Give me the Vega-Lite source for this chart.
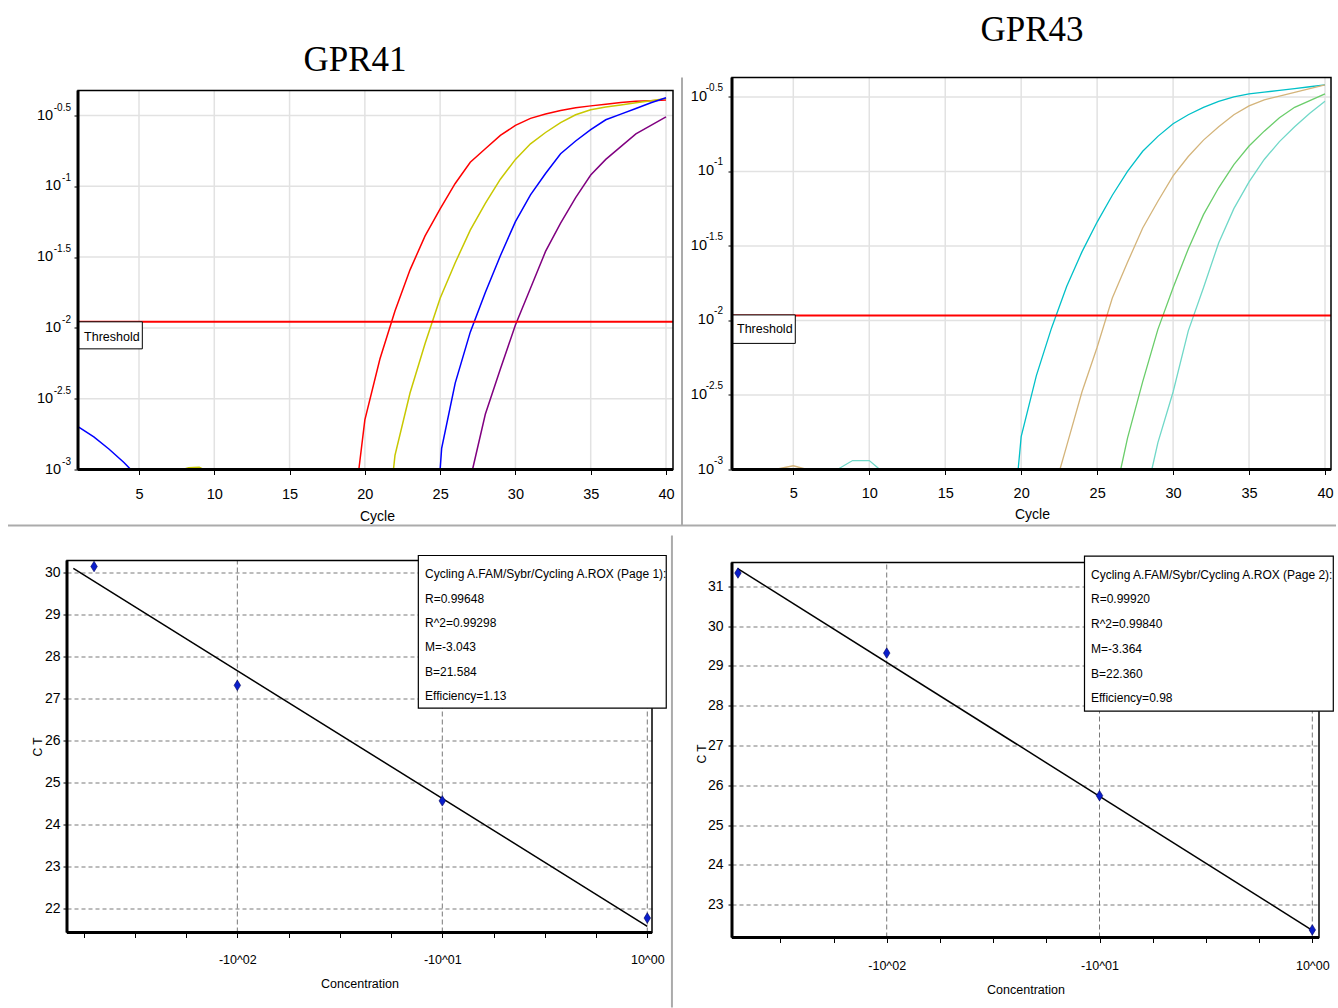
{
  "$schema": "https://vega.github.io/schema/vega-lite/v6.json",
  "background": "white",
  "padding": {"left": 7, "top": 12.5, "right": 0, "bottom": 0},
  "columns": 2,
  "align": "each",
  "bounds": "flush",
  "spacing": {"row": 91, "column": 59},
  "resolve": {"scale": {"color": "independent"}},
  "concat": [
    {
      "width": 606,
      "height": 392,
      "layer": [
        {
          "data": {"values": [{"c": 5}, {"c": 10}, {"c": 15}, {"c": 20}, {"c": 25}, {"c": 30}, {"c": 35}, {"c": 40}]},
          "mark": {"type": "rule", "color": "#E2E2E2", "strokeWidth": 1.5},
          "encoding": {
            "x": {"field": "c", "type": "quantitative", "scale": {"domain": [0.218, 40.465], "nice": false, "zero": false},
                  "axis": {"values": [5, 10, 15, 20, 25, 30, 35, 40], "domain": false, "grid": false, "ticks": true, "tickSize": 5, "labelFontSize": 14.5, "labelPadding": 23.5, "labelBaseline": "alphabetic", "labelFlush": false, "labelOverlap": false, "title": "Cycle", "titleFontSize": 14, "titleBaseline": "alphabetic", "titleY": 51, "titleX": 310, "titleAlign": "center"}},
            "y": {"datum": -3, "type": "quantitative", "scale": {"domain": [-3, -0.2316], "nice": false, "zero": false},
                  "axis": {"values": [-3, -2.5, -2, -1.5, -1, -0.5], "labels": false, "domain": false, "grid": false, "ticks": true, "tickSize": 4, "offset": -11, "title": null}},
            "y2": {"datum": -0.3234}
          }
        },
        {
          "data": {"values": [{"g": -2.5}, {"g": -2}, {"g": -1.5}, {"g": -1}, {"g": -0.5}]},
          "mark": {"type": "rule", "color": "#E2E2E2", "strokeWidth": 1.5},
          "encoding": {
            "y": {"field": "g", "type": "quantitative"},
            "x": {"datum": 0.95, "type": "quantitative"},
            "x2": {"datum": 40.465}
          }
        },
        {
          "data": {"values": [
            {"dil": "1", "cycle": 19.6, "lg": -3}, {"dil": "1", "cycle": 20, "lg": -2.65}, {"dil": "1", "cycle": 21, "lg": -2.22}, {"dil": "1", "cycle": 22, "lg": -1.88}, {"dil": "1", "cycle": 23, "lg": -1.59}, {"dil": "1", "cycle": 24, "lg": -1.35}, {"dil": "1", "cycle": 25, "lg": -1.16}, {"dil": "1", "cycle": 26, "lg": -0.98}, {"dil": "1", "cycle": 27, "lg": -0.83}, {"dil": "1", "cycle": 28, "lg": -0.735}, {"dil": "1", "cycle": 29, "lg": -0.64}, {"dil": "1", "cycle": 30, "lg": -0.57}, {"dil": "1", "cycle": 31, "lg": -0.52}, {"dil": "1", "cycle": 32, "lg": -0.49}, {"dil": "1", "cycle": 33, "lg": -0.465}, {"dil": "1", "cycle": 34, "lg": -0.446}, {"dil": "1", "cycle": 35, "lg": -0.432}, {"dil": "1", "cycle": 36, "lg": -0.42}, {"dil": "1", "cycle": 37, "lg": -0.408}, {"dil": "1", "cycle": 38, "lg": -0.4}, {"dil": "1", "cycle": 39, "lg": -0.395}, {"dil": "1", "cycle": 40, "lg": -0.39},
            {"dil": "0.1", "cycle": 7.9, "lg": -3}, {"dil": "0.1", "cycle": 8.3, "lg": -2.988}, {"dil": "0.1", "cycle": 9.0, "lg": -2.985}, {"dil": "0.1", "cycle": 9.3, "lg": -3}, {"dil": "0.1", "cycle": 21.9, "lg": -3}, {"dil": "0.1", "cycle": 22, "lg": -2.9}, {"dil": "0.1", "cycle": 23, "lg": -2.46}, {"dil": "0.1", "cycle": 24, "lg": -2.11}, {"dil": "0.1", "cycle": 25, "lg": -1.79}, {"dil": "0.1", "cycle": 26, "lg": -1.54}, {"dil": "0.1", "cycle": 27, "lg": -1.31}, {"dil": "0.1", "cycle": 28, "lg": -1.12}, {"dil": "0.1", "cycle": 29, "lg": -0.95}, {"dil": "0.1", "cycle": 30, "lg": -0.81}, {"dil": "0.1", "cycle": 31, "lg": -0.7}, {"dil": "0.1", "cycle": 32, "lg": -0.62}, {"dil": "0.1", "cycle": 33, "lg": -0.55}, {"dil": "0.1", "cycle": 34, "lg": -0.495}, {"dil": "0.1", "cycle": 35, "lg": -0.46}, {"dil": "0.1", "cycle": 36, "lg": -0.44}, {"dil": "0.1", "cycle": 37, "lg": -0.425}, {"dil": "0.1", "cycle": 38, "lg": -0.41}, {"dil": "0.1", "cycle": 39, "lg": -0.395}, {"dil": "0.1", "cycle": 40, "lg": -0.38},
            {"dil": "0.01", "cycle": 1, "lg": -2.7}, {"dil": "0.01", "cycle": 2, "lg": -2.77}, {"dil": "0.01", "cycle": 3, "lg": -2.855}, {"dil": "0.01", "cycle": 4, "lg": -2.95}, {"dil": "0.01", "cycle": 4.45, "lg": -3}, {"dil": "0.01", "cycle": 25, "lg": -3}, {"dil": "0.01", "cycle": 25.1, "lg": -2.85}, {"dil": "0.01", "cycle": 26, "lg": -2.39}, {"dil": "0.01", "cycle": 27, "lg": -2.03}, {"dil": "0.01", "cycle": 28, "lg": -1.75}, {"dil": "0.01", "cycle": 29, "lg": -1.49}, {"dil": "0.01", "cycle": 30, "lg": -1.25}, {"dil": "0.01", "cycle": 31, "lg": -1.06}, {"dil": "0.01", "cycle": 32, "lg": -0.91}, {"dil": "0.01", "cycle": 33, "lg": -0.77}, {"dil": "0.01", "cycle": 34, "lg": -0.68}, {"dil": "0.01", "cycle": 35, "lg": -0.6}, {"dil": "0.01", "cycle": 36, "lg": -0.53}, {"dil": "0.01", "cycle": 37, "lg": -0.49}, {"dil": "0.01", "cycle": 38, "lg": -0.45}, {"dil": "0.01", "cycle": 39, "lg": -0.41}, {"dil": "0.01", "cycle": 40, "lg": -0.375},
            {"dil": "0.002", "cycle": 27.15, "lg": -3}, {"dil": "0.002", "cycle": 28, "lg": -2.61}, {"dil": "0.002", "cycle": 29, "lg": -2.29}, {"dil": "0.002", "cycle": 30, "lg": -1.98}, {"dil": "0.002", "cycle": 31, "lg": -1.72}, {"dil": "0.002", "cycle": 32, "lg": -1.46}, {"dil": "0.002", "cycle": 33, "lg": -1.26}, {"dil": "0.002", "cycle": 34, "lg": -1.08}, {"dil": "0.002", "cycle": 35, "lg": -0.92}, {"dil": "0.002", "cycle": 36, "lg": -0.81}, {"dil": "0.002", "cycle": 37, "lg": -0.72}, {"dil": "0.002", "cycle": 38, "lg": -0.63}, {"dil": "0.002", "cycle": 39, "lg": -0.57}, {"dil": "0.002", "cycle": 40, "lg": -0.51}
          ]},
          "mark": {"type": "line", "strokeWidth": 1.5},
          "encoding": {
            "x": {"field": "cycle", "type": "quantitative"},
            "y": {"field": "lg", "type": "quantitative"},
            "color": {"field": "dil", "type": "nominal", "scale": {"domain": ["1", "0.1", "0.01", "0.002"], "range": ["#FF0000", "#C8C800", "#0000FF", "#800080"]}, "legend": null}
          }
        },
        {
          "data": {"values": [{"t": -1.957}]},
          "mark": {"type": "rule", "color": "#FF0000", "strokeWidth": 2},
          "encoding": {
            "y": {"field": "t", "type": "quantitative"},
            "x": {"datum": 0.95, "type": "quantitative"},
            "x2": {"datum": 40.465}
          }
        },
        {
          "data": {"values": [{}]},
          "mark": {"type": "rect", "fill": "white", "stroke": "#000", "strokeWidth": 1},
          "encoding": {
            "x": {"datum": 0.95, "type": "quantitative"},
            "x2": {"datum": 5.22},
            "y": {"datum": -1.957, "type": "quantitative"},
            "y2": {"datum": -2.148}
          }
        },
        {
          "data": {"values": [{}]},
          "mark": {"type": "text", "text": "Threshold", "align": "left", "baseline": "middle", "fontSize": 12.5},
          "encoding": {
            "x": {"datum": 1.35, "type": "quantitative"},
            "y": {"datum": -2.064, "type": "quantitative"}
          }
        },
        {
          "data": {"values": [{}]},
          "mark": {"type": "rect", "filled": false, "stroke": "#000", "strokeWidth": 1.5},
          "encoding": {
            "x": {"datum": 0.95, "type": "quantitative"},
            "x2": {"datum": 40.465},
            "y": {"datum": -3, "type": "quantitative"},
            "y2": {"datum": -0.3234}
          }
        },
        {
          "data": {"values": [{}]},
          "mark": {"type": "rule", "color": "#000", "strokeWidth": 3},
          "encoding": {
            "x": {"datum": 0.95, "type": "quantitative"},
            "y": {"datum": -3, "type": "quantitative"},
            "y2": {"datum": -0.3234}
          }
        },
        {
          "data": {"values": [{}]},
          "mark": {"type": "rule", "color": "#000", "strokeWidth": 3},
          "encoding": {
            "y": {"datum": -3, "type": "quantitative"},
            "x": {"datum": 0.95, "type": "quantitative"},
            "x2": {"datum": 40.465}
          }
        },
        {
          "data": {"values": [{"v": -0.5, "e": "-0.5"}, {"v": -1, "e": "-1"}, {"v": -1.5, "e": "-1.5"}, {"v": -2, "e": "-2"}, {"v": -2.5, "e": "-2.5"}, {"v": -3, "e": "-3"}]},
          "layer": [
            {
              "transform": [{"filter": "length(datum.e) > 2"}],
              "mark": {"type": "text", "text": "10", "align": "right", "baseline": "middle", "dx": -25, "fontSize": 14.5}
            },
            {
              "transform": [{"filter": "length(datum.e) <= 2"}],
              "mark": {"type": "text", "text": "10", "align": "right", "baseline": "middle", "dx": -17, "fontSize": 14.5}
            },
            {
              "mark": {"type": "text", "align": "right", "baseline": "middle", "dx": -7, "dy": -8, "fontSize": 10},
              "encoding": {"text": {"field": "e"}}
            }
          ],
          "encoding": {
            "x": {"datum": 0.95, "type": "quantitative"},
            "y": {"field": "v", "type": "quantitative"}
          }
        },
        {
          "data": {"values": [{"name": "GPR41"}]},
          "mark": {"type": "text", "align": "center", "baseline": "alphabetic", "font": "Liberation Serif, Times New Roman, serif", "fontSize": 35},
          "encoding": {
            "text": {"field": "name"},
            "x": {"datum": 19.345, "type": "quantitative"},
            "y": {"datum": -0.1843, "type": "quantitative"}
          }
        },
        {
          "data": {"values": [{}]},
          "mark": {"type": "rule", "color": "#ABABAB", "strokeWidth": 2},
          "encoding": {
            "y": {"datum": -3.3955, "type": "quantitative"},
            "x": {"datum": -3.70, "type": "quantitative"},
            "x2": {"datum": 84.5}
          }
        },
        {
          "data": {"values": [{}]},
          "mark": {"type": "rule", "color": "#ABABAB", "strokeWidth": 2},
          "encoding": {
            "x": {"datum": 41.063, "type": "quantitative"},
            "y": {"datum": -0.2316, "type": "quantitative"},
            "y2": {"datum": -3.3955}
          }
        }
      ]
    },
    {
      "width": 599,
      "height": 392,
      "layer": [
        {
          "data": {"values": [{"c": 5}, {"c": 10}, {"c": 15}, {"c": 20}, {"c": 25}, {"c": 30}, {"c": 35}, {"c": 40}]},
          "mark": {"type": "rule", "color": "#E2E2E2", "strokeWidth": 1.5},
          "encoding": {
            "x": {"field": "c", "type": "quantitative", "scale": {"domain": [0.964, 40.395], "nice": false, "zero": false},
                  "axis": {"values": [5, 10, 15, 20, 25, 30, 35, 40], "domain": false, "grid": false, "ticks": true, "tickSize": 5, "labelFontSize": 14.5, "labelPadding": 23, "labelBaseline": "alphabetic", "labelFlush": false, "labelOverlap": false, "title": "Cycle", "titleFontSize": 14, "titleBaseline": "alphabetic", "titleY": 49, "titleX": 300, "titleAlign": "center"}},
            "y": {"datum": -3, "type": "quantitative", "scale": {"domain": [-3, -0.37], "nice": false, "zero": false},
                  "axis": {"values": [-3, -2.5, -2, -1.5, -1, -0.5], "labels": false, "domain": false, "grid": false, "ticks": true, "tickSize": 4, "title": null}},
            "y2": {"datum": -0.37}
          }
        },
        {
          "data": {"values": [{"g": -2.5}, {"g": -2}, {"g": -1.5}, {"g": -1}, {"g": -0.5}]},
          "mark": {"type": "rule", "color": "#E2E2E2", "strokeWidth": 1.5},
          "encoding": {
            "y": {"field": "g", "type": "quantitative"},
            "x": {"datum": 0.964, "type": "quantitative"},
            "x2": {"datum": 40.395}
          }
        },
        {
          "data": {"values": [
            {"dil": "1", "cycle": 19.8, "lg": -3}, {"dil": "1", "cycle": 20, "lg": -2.78}, {"dil": "1", "cycle": 21, "lg": -2.37}, {"dil": "1", "cycle": 22, "lg": -2.05}, {"dil": "1", "cycle": 23, "lg": -1.77}, {"dil": "1", "cycle": 24, "lg": -1.54}, {"dil": "1", "cycle": 25, "lg": -1.34}, {"dil": "1", "cycle": 26, "lg": -1.16}, {"dil": "1", "cycle": 27, "lg": -1.0}, {"dil": "1", "cycle": 28, "lg": -0.865}, {"dil": "1", "cycle": 29, "lg": -0.765}, {"dil": "1", "cycle": 30, "lg": -0.68}, {"dil": "1", "cycle": 31, "lg": -0.62}, {"dil": "1", "cycle": 32, "lg": -0.57}, {"dil": "1", "cycle": 33, "lg": -0.53}, {"dil": "1", "cycle": 34, "lg": -0.5}, {"dil": "1", "cycle": 35, "lg": -0.48}, {"dil": "1", "cycle": 36, "lg": -0.468}, {"dil": "1", "cycle": 37, "lg": -0.457}, {"dil": "1", "cycle": 38, "lg": -0.445}, {"dil": "1", "cycle": 39, "lg": -0.432}, {"dil": "1", "cycle": 40, "lg": -0.42},
            {"dil": "0.1", "cycle": 3.8, "lg": -3}, {"dil": "0.1", "cycle": 5, "lg": -2.975}, {"dil": "0.1", "cycle": 5.9, "lg": -3}, {"dil": "0.1", "cycle": 22.55, "lg": -3}, {"dil": "0.1", "cycle": 23, "lg": -2.84}, {"dil": "0.1", "cycle": 24, "lg": -2.48}, {"dil": "0.1", "cycle": 25, "lg": -2.18}, {"dil": "0.1", "cycle": 26, "lg": -1.85}, {"dil": "0.1", "cycle": 27, "lg": -1.61}, {"dil": "0.1", "cycle": 28, "lg": -1.38}, {"dil": "0.1", "cycle": 29, "lg": -1.2}, {"dil": "0.1", "cycle": 30, "lg": -1.03}, {"dil": "0.1", "cycle": 31, "lg": -0.9}, {"dil": "0.1", "cycle": 32, "lg": -0.79}, {"dil": "0.1", "cycle": 33, "lg": -0.7}, {"dil": "0.1", "cycle": 34, "lg": -0.62}, {"dil": "0.1", "cycle": 35, "lg": -0.56}, {"dil": "0.1", "cycle": 36, "lg": -0.52}, {"dil": "0.1", "cycle": 37, "lg": -0.495}, {"dil": "0.1", "cycle": 38, "lg": -0.47}, {"dil": "0.1", "cycle": 39, "lg": -0.445}, {"dil": "0.1", "cycle": 40, "lg": -0.42},
            {"dil": "0.01", "cycle": 26.55, "lg": -3}, {"dil": "0.01", "cycle": 27, "lg": -2.79}, {"dil": "0.01", "cycle": 28, "lg": -2.41}, {"dil": "0.01", "cycle": 29, "lg": -2.06}, {"dil": "0.01", "cycle": 30, "lg": -1.78}, {"dil": "0.01", "cycle": 31, "lg": -1.52}, {"dil": "0.01", "cycle": 32, "lg": -1.29}, {"dil": "0.01", "cycle": 33, "lg": -1.11}, {"dil": "0.01", "cycle": 34, "lg": -0.955}, {"dil": "0.01", "cycle": 35, "lg": -0.83}, {"dil": "0.01", "cycle": 36, "lg": -0.73}, {"dil": "0.01", "cycle": 37, "lg": -0.64}, {"dil": "0.01", "cycle": 38, "lg": -0.57}, {"dil": "0.01", "cycle": 39, "lg": -0.525}, {"dil": "0.01", "cycle": 40, "lg": -0.48},
            {"dil": "0.002", "cycle": 7.9, "lg": -3}, {"dil": "0.002", "cycle": 8.9, "lg": -2.94}, {"dil": "0.002", "cycle": 10, "lg": -2.94}, {"dil": "0.002", "cycle": 10.7, "lg": -3}, {"dil": "0.002", "cycle": 28.6, "lg": -3}, {"dil": "0.002", "cycle": 29, "lg": -2.82}, {"dil": "0.002", "cycle": 30, "lg": -2.48}, {"dil": "0.002", "cycle": 31, "lg": -2.07}, {"dil": "0.002", "cycle": 32, "lg": -1.78}, {"dil": "0.002", "cycle": 33, "lg": -1.48}, {"dil": "0.002", "cycle": 34, "lg": -1.25}, {"dil": "0.002", "cycle": 35, "lg": -1.07}, {"dil": "0.002", "cycle": 36, "lg": -0.92}, {"dil": "0.002", "cycle": 37, "lg": -0.8}, {"dil": "0.002", "cycle": 38, "lg": -0.7}, {"dil": "0.002", "cycle": 39, "lg": -0.61}, {"dil": "0.002", "cycle": 40, "lg": -0.53}
          ]},
          "mark": {"type": "line", "strokeWidth": 1.3},
          "encoding": {
            "x": {"field": "cycle", "type": "quantitative"},
            "y": {"field": "lg", "type": "quantitative"},
            "color": {"field": "dil", "type": "nominal", "scale": {"domain": ["1", "0.1", "0.01", "0.002"], "range": ["#00C0C8", "#D4B47A", "#6ACD6A", "#70D8C8"]}, "legend": null}
          }
        },
        {
          "data": {"values": [{"t": -1.966}]},
          "mark": {"type": "rule", "color": "#FF0000", "strokeWidth": 2},
          "encoding": {
            "y": {"field": "t", "type": "quantitative"},
            "x": {"datum": 0.964, "type": "quantitative"},
            "x2": {"datum": 40.395}
          }
        },
        {
          "data": {"values": [{}]},
          "mark": {"type": "rect", "fill": "white", "stroke": "#000", "strokeWidth": 1},
          "encoding": {
            "x": {"datum": 0.964, "type": "quantitative"},
            "x2": {"datum": 5.13},
            "y": {"datum": -1.963, "type": "quantitative"},
            "y2": {"datum": -2.154}
          }
        },
        {
          "data": {"values": [{}]},
          "mark": {"type": "text", "text": "Threshold", "align": "left", "baseline": "middle", "fontSize": 12.5},
          "encoding": {
            "x": {"datum": 1.293, "type": "quantitative"},
            "y": {"datum": -2.06, "type": "quantitative"}
          }
        },
        {
          "data": {"values": [{}]},
          "mark": {"type": "rect", "filled": false, "stroke": "#000", "strokeWidth": 1.5},
          "encoding": {
            "x": {"datum": 0.964, "type": "quantitative"},
            "x2": {"datum": 40.395},
            "y": {"datum": -3, "type": "quantitative"},
            "y2": {"datum": -0.37}
          }
        },
        {
          "data": {"values": [{}]},
          "mark": {"type": "rule", "color": "#000", "strokeWidth": 3},
          "encoding": {
            "x": {"datum": 0.964, "type": "quantitative"},
            "y": {"datum": -3, "type": "quantitative"},
            "y2": {"datum": -0.37}
          }
        },
        {
          "data": {"values": [{}]},
          "mark": {"type": "rule", "color": "#000", "strokeWidth": 3},
          "encoding": {
            "y": {"datum": -3, "type": "quantitative"},
            "x": {"datum": 0.964, "type": "quantitative"},
            "x2": {"datum": 40.395}
          }
        },
        {
          "data": {"values": [{"v": -0.5, "e": "-0.5"}, {"v": -1, "e": "-1"}, {"v": -1.5, "e": "-1.5"}, {"v": -2, "e": "-2"}, {"v": -2.5, "e": "-2.5"}, {"v": -3, "e": "-3"}]},
          "layer": [
            {
              "transform": [{"filter": "length(datum.e) > 2"}],
              "mark": {"type": "text", "text": "10", "align": "right", "baseline": "middle", "dx": -25, "fontSize": 14.5}
            },
            {
              "transform": [{"filter": "length(datum.e) <= 2"}],
              "mark": {"type": "text", "text": "10", "align": "right", "baseline": "middle", "dx": -18, "fontSize": 14.5}
            },
            {
              "mark": {"type": "text", "align": "right", "baseline": "middle", "dx": -9, "dy": -9, "fontSize": 10},
              "encoding": {"text": {"field": "e"}}
            }
          ],
          "encoding": {
            "x": {"datum": 0.964, "type": "quantitative"},
            "y": {"field": "v", "type": "quantitative"}
          }
        },
        {
          "data": {"values": [{"name": "GPR43"}]},
          "mark": {"type": "text", "align": "center", "baseline": "alphabetic", "font": "Liberation Serif, Times New Roman, serif", "fontSize": 35},
          "encoding": {
            "text": {"field": "name"},
            "x": {"datum": 20.714, "type": "quantitative"},
            "y": {"datum": -0.1238, "type": "quantitative"}
          }
        }
      ]
    },
    {
      "width": 585,
      "height": 372,
      "layer": [
        {
          "data": {"values": [{"m": -2}, {"m": -1}, {"m": 0}]},
          "mark": {"type": "rule", "color": "#777777", "strokeWidth": 1, "strokeDash": [5, 3]},
          "encoding": {
            "x": {"field": "m", "type": "quantitative", "scale": {"domain": [-2.831, 0.023], "nice": false, "zero": false},
                  "axis": {"values": [-2.75, -2.5, -2.25, -2, -1.75, -1.5, -1.25, -1, -0.75, -0.5, -0.25, 0], "labelExpr": "datum.value === -2 ? '-10^02' : datum.value === -1 ? '-10^01' : datum.value === 0 ? '10^00' : ''", "domain": false, "grid": false, "ticks": true, "tickSize": 5, "labelFontSize": 12.5, "labelPadding": 26, "labelBaseline": "alphabetic", "labelFlush": false, "labelOverlap": false, "title": "Concentration", "titleFontSize": 12.5, "titleBaseline": "alphabetic", "titleY": 55}},
            "y": {"datum": 21.436, "type": "quantitative", "scale": {"domain": [21.436, 30.293], "nice": false, "zero": false},
                  "axis": {"values": [22, 23, 24, 25, 26, 27, 28, 29, 30], "domain": false, "grid": true, "gridDash": [4, 3], "gridColor": "#7A7A7A", "gridWidth": 1.2, "ticks": true, "tickSize": 4, "labelFontSize": 14, "labelPadding": 3, "title": "C T", "titleFontSize": 12, "titleAngle": -90, "titleX": -30, "titleY": 186, "titleAlign": "center", "titleBaseline": "middle"}},
            "y2": {"datum": 30.293}
          }
        },
        {
          "data": {"values": [{"lc": -2.8, "ct": 30.104}, {"lc": 0, "ct": 21.584}]},
          "mark": {"type": "line", "color": "#000", "strokeWidth": 1.5},
          "encoding": {
            "x": {"field": "lc", "type": "quantitative"},
            "y": {"field": "ct", "type": "quantitative"}
          }
        },
        {
          "data": {"values": [{"lc": -2.699, "ct": 30.15}, {"lc": -2, "ct": 27.32}, {"lc": -1, "ct": 24.57}, {"lc": 0, "ct": 21.78}]},
          "mark": {"type": "point", "shape": "M0,-1L0.62,0L0,1L-0.62,0Z", "filled": true, "size": 110, "fill": "#0A1ECC", "stroke": "#00005A", "strokeWidth": 0.6, "opacity": 1},
          "encoding": {
            "x": {"field": "lc", "type": "quantitative"},
            "y": {"field": "ct", "type": "quantitative"}
          }
        },
        {
          "data": {"values": [{}]},
          "mark": {"type": "rect", "filled": false, "stroke": "#000", "strokeWidth": 1.5},
          "encoding": {
            "x": {"datum": -2.831, "type": "quantitative"},
            "x2": {"datum": 0.023},
            "y": {"datum": 21.436, "type": "quantitative"},
            "y2": {"datum": 30.293}
          }
        },
        {
          "data": {"values": [{}]},
          "mark": {"type": "rule", "color": "#000", "strokeWidth": 3},
          "encoding": {
            "x": {"datum": -2.831, "type": "quantitative"},
            "y": {"datum": 21.436, "type": "quantitative"},
            "y2": {"datum": 30.293}
          }
        },
        {
          "data": {"values": [{}]},
          "mark": {"type": "rule", "color": "#000", "strokeWidth": 3},
          "encoding": {
            "y": {"datum": 21.436, "type": "quantitative"},
            "x": {"datum": -2.831, "type": "quantitative"},
            "x2": {"datum": 0.023}
          }
        },
        {
          "data": {"values": [{}]},
          "mark": {"type": "rect", "fill": "white", "stroke": "#000", "strokeWidth": 1.2},
          "encoding": {
            "x": {"datum": -1.117, "type": "quantitative"},
            "x2": {"datum": 0.0925},
            "y": {"datum": 30.412, "type": "quantitative"},
            "y2": {"datum": 26.776}
          }
        },
        {
          "data": {"values": [{}]},
          "mark": {"type": "text", "text": ["Cycling A.FAM/Sybr/Cycling A.ROX (Page 1):", "R=0.99648", "R^2=0.99298", "M=-3.043", "B=21.584", "Efficiency=1.13"], "align": "left", "baseline": "alphabetic", "fontSize": 12, "lineHeight": 24.4},
          "encoding": {
            "x": {"datum": -1.0844, "type": "quantitative"},
            "y": {"datum": 29.871, "type": "quantitative"}
          }
        },
        {
          "data": {"values": [{}]},
          "mark": {"type": "rule", "color": "#ABABAB", "strokeWidth": 2},
          "encoding": {
            "x": {"datum": 0.1203, "type": "quantitative"},
            "y": {"datum": 30.888, "type": "quantitative"},
            "y2": {"datum": 19.65}
          }
        }
      ]
    },
    {
      "width": 587,
      "height": 377,
      "layer": [
        {
          "data": {"values": [{"m": -2}, {"m": -1}, {"m": 0}]},
          "mark": {"type": "rule", "color": "#777777", "strokeWidth": 1, "strokeDash": [5, 3]},
          "encoding": {
            "x": {"field": "m", "type": "quantitative", "scale": {"domain": [-2.727, 0.0315], "nice": false, "zero": false},
                  "axis": {"values": [-2.5, -2.25, -2, -1.75, -1.5, -1.25, -1, -0.75, -0.5, -0.25, 0], "labelExpr": "datum.value === -2 ? '-10^02' : datum.value === -1 ? '-10^01' : datum.value === 0 ? '10^00' : ''", "domain": false, "grid": false, "ticks": true, "tickSize": 5, "labelFontSize": 12.5, "labelPadding": 27, "labelBaseline": "alphabetic", "labelFlush": false, "labelOverlap": false, "title": "Concentration", "titleFontSize": 12.5, "titleBaseline": "alphabetic", "titleY": 55.5}},
            "y": {"datum": 22.179, "type": "quantitative", "scale": {"domain": [22.179, 31.645], "nice": false, "zero": false},
                  "axis": {"values": [23, 24, 25, 26, 27, 28, 29, 30, 31], "domain": false, "grid": true, "gridDash": [4, 3], "gridColor": "#7A7A7A", "gridWidth": 1.2, "ticks": true, "tickSize": 4, "labelFontSize": 14, "labelPadding": 5, "title": "C T", "titleFontSize": 12, "titleAngle": -90, "titleX": -31, "titleY": 193, "titleAlign": "center", "titleBaseline": "middle"}},
            "y2": {"datum": 31.595}
          }
        },
        {
          "data": {"values": [{"lc": -2.7, "ct": 31.443}, {"lc": 0, "ct": 22.36}]},
          "mark": {"type": "line", "color": "#000", "strokeWidth": 1.5},
          "encoding": {
            "x": {"field": "lc", "type": "quantitative"},
            "y": {"field": "ct", "type": "quantitative"}
          }
        },
        {
          "data": {"values": [{"lc": -2.699, "ct": 31.33}, {"lc": -2, "ct": 29.32}, {"lc": -1, "ct": 25.74}, {"lc": 0, "ct": 22.37}]},
          "mark": {"type": "point", "shape": "M0,-1L0.62,0L0,1L-0.62,0Z", "filled": true, "size": 110, "fill": "#0A1ECC", "stroke": "#00005A", "strokeWidth": 0.6, "opacity": 1},
          "encoding": {
            "x": {"field": "lc", "type": "quantitative"},
            "y": {"field": "ct", "type": "quantitative"}
          }
        },
        {
          "data": {"values": [{}]},
          "mark": {"type": "rect", "filled": false, "stroke": "#000", "strokeWidth": 1.5},
          "encoding": {
            "x": {"datum": -2.727, "type": "quantitative"},
            "x2": {"datum": 0.0315},
            "y": {"datum": 22.179, "type": "quantitative"},
            "y2": {"datum": 31.595}
          }
        },
        {
          "data": {"values": [{}]},
          "mark": {"type": "rule", "color": "#000", "strokeWidth": 3},
          "encoding": {
            "x": {"datum": -2.727, "type": "quantitative"},
            "y": {"datum": 22.179, "type": "quantitative"},
            "y2": {"datum": 31.595}
          }
        },
        {
          "data": {"values": [{}]},
          "mark": {"type": "rule", "color": "#000", "strokeWidth": 3},
          "encoding": {
            "y": {"datum": 22.179, "type": "quantitative"},
            "x": {"datum": -2.727, "type": "quantitative"},
            "x2": {"datum": 0.0315}
          }
        },
        {
          "data": {"values": [{}]},
          "mark": {"type": "rect", "fill": "white", "stroke": "#000", "strokeWidth": 1.2},
          "encoding": {
            "x": {"datum": -1.0705, "type": "quantitative"},
            "x2": {"datum": 0.0987},
            "y": {"datum": 31.753, "type": "quantitative"},
            "y2": {"datum": 27.861}
          }
        },
        {
          "data": {"values": [{}]},
          "mark": {"type": "text", "text": ["Cycling A.FAM/Sybr/Cycling A.ROX (Page 2):", "R=0.99920", "R^2=0.99840", "M=-3.364", "B=22.360", "Efficiency=0.98"], "align": "left", "baseline": "alphabetic", "fontSize": 12, "lineHeight": 24.7},
          "encoding": {
            "x": {"datum": -1.04, "type": "quantitative"},
            "y": {"datum": 31.186, "type": "quantitative"}
          }
        }
      ]
    }
  ],
  "config": {
    "view": {"stroke": null},
    "font": "Liberation Sans, Arial, sans-serif",
    "axis": {"labelColor": "#000", "titleColor": "#000", "tickColor": "#000", "titleFontWeight": "normal", "labelFontSize": 14, "titleFontSize": 14},
    "text": {"color": "#000"}
  }
}
